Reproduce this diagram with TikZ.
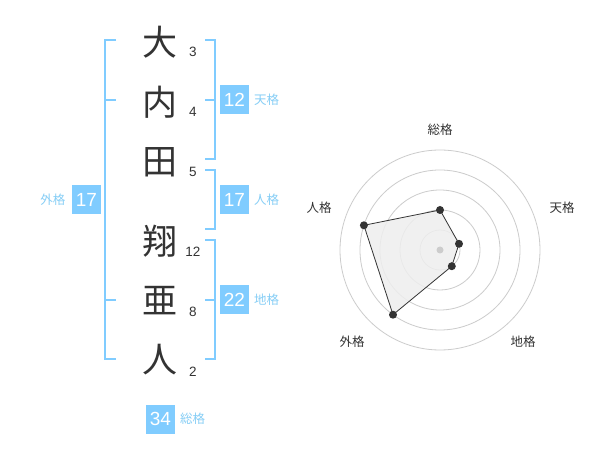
\documentclass[tikz,border=0pt]{standalone}
\usepackage{fontspec}
\setmainfont{Liberation Sans}
\newfontfamily\cjk{Noto Sans CJK JP}
\definecolor{boxblue}{HTML}{80CCFF}
\definecolor{labelblue}{HTML}{86CEF6}
\definecolor{ink}{HTML}{333333}
\definecolor{gridgray}{HTML}{CCCCCC}
\definecolor{polyfill}{HTML}{EEEEEE}
\tikzset{
  kanji/.style={font=\cjk\fontsize{35}{35}\selectfont, text=ink, inner sep=0pt},
  strokes/.style={font=\fontsize{13.5}{14}\selectfont, text=ink, inner sep=0pt},
  score/.style={fill=boxblue, text=white, minimum size=29pt, inner sep=0pt, font=\fontsize{19}{19}\selectfont},
  kaku/.style={font=\cjk\fontsize{12.5}{13}\selectfont, text=labelblue, inner sep=0pt},
  bracket/.style={draw=boxblue, line width=2pt},
  gridline/.style={draw=gridgray, line width=0.8pt},
  axislabel/.style={font=\cjk\fontsize{12.5}{13}\selectfont, text=ink, inner sep=0pt},
  dotnode/.style={circle, fill=ink, inner sep=0pt, minimum size=8pt},
}
\begin{document}
\begin{tikzpicture}[x=1pt,y=-1pt]
\useasboundingbox[fill=white] (0,0) rectangle (600,470);

% name characters
\node[kanji] (k1) at (160,42) {大};
\node[kanji] (k2) at (160,102) {内};
\node[kanji] (k3) at (160,162) {田};
\node[kanji] (k4) at (160,241) {翔};
\node[kanji] (k5) at (160,301) {亜};
\node[kanji] (k6) at (160,360) {人};

% stroke counts
\node[strokes] (n1) at (193,52) {3};
\node[strokes] (n2) at (193,112) {4};
\node[strokes] (n3) at (193,172) {5};
\node[strokes] (n4) at (193,252) {12};
\node[strokes] (n5) at (193,312) {8};
\node[strokes] (n6) at (193,372) {2};

% brackets
\draw[bracket] (116,40) -- (104.5,40) -- (104.5,359) -- (116,359);
\draw[bracket] (104.5,100) -- (116,100);
\draw[bracket] (104.5,300) -- (116,300);

\draw[bracket] (205,40) -- (214.5,40) -- (214.5,159) -- (205,159);
\draw[bracket] (205,100) -- (214.5,100);

\draw[bracket] (205,170) -- (214.5,170) -- (214.5,229.5) -- (205,229.5);

\draw[bracket] (205,240) -- (214.5,240) -- (214.5,359) -- (205,359);
\draw[bracket] (205,300) -- (214.5,300);

% scores
\node[score] (ten) at (234.5,100) {12};
\node[kaku, anchor=west] (tenl) at (254,100) {天格};
\node[score] (jin) at (234.5,200) {17};
\node[kaku, anchor=west] (jinl) at (254,200) {人格};
\node[score] (chi) at (234.5,300) {22};
\node[kaku, anchor=west] (chil) at (254,300) {地格};
\node[score] (gai) at (86.5,200) {17};
\node[kaku, anchor=east] (gail) at (65.5,200) {外格};
\node[score] (sou) at (160.5,419) {34};
\node[kaku, anchor=west] (soul) at (180,419) {総格};

% radar chart
\coordinate (c) at (440,250);
\foreach \r in {20,40,60,80,100} {
  \draw[gridline] (c) circle[radius=\r pt];
}
\coordinate (p1) at (440,210);
\coordinate (p2) at (459.0,243.8);
\coordinate (p3) at (451.8,266.2);
\coordinate (p4) at (393.0,314.7);
\coordinate (p5) at (363.9,225.3);
\filldraw[fill=polyfill, fill opacity=0.85, draw=ink, line width=0.8pt] (p1) -- (p2) -- (p3) -- (p4) -- (p5) -- cycle;
\foreach \i in {1,...,5} { \node[dotnode] (d\i) at (p\i) {}; }
\node[circle, fill=gridgray, inner sep=0pt, minimum size=7pt] (cdot) at (c) {};

\node[axislabel] (a1) at (440,130) {総格};
\node[axislabel] (a2) at (562,208) {天格};
\node[axislabel] (a3) at (523,342) {地格};
\node[axislabel] (a4) at (352,342) {外格};
\node[axislabel] (a5) at (319,208) {人格};
\end{tikzpicture}
\end{document}
